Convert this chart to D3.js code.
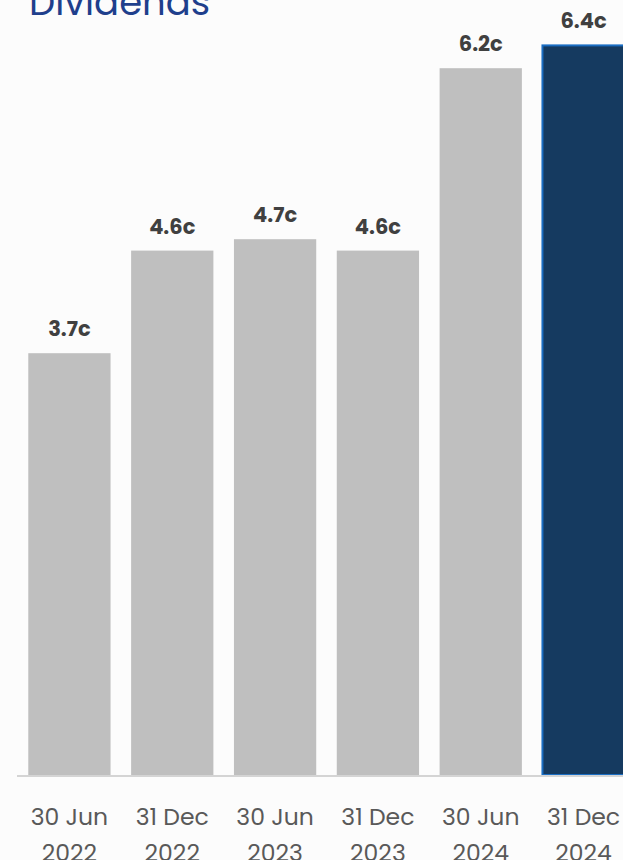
<!DOCTYPE html>
<html>
<head>
<meta charset="utf-8">
<script src="https://cdn.jsdelivr.net/npm/d3@7"></script>
<style>
  html, body { margin: 0; padding: 0; background: #fcfcfc; overflow: hidden; }
  svg { display: block; }
</style>
</head>
<body>
<svg id="chart"></svg>
<script>
// data
const periods = ['30 Jun 2022', '31 Dec 2022', '30 Jun 2023', '31 Dec 2023', '30 Jun 2024', '31 Dec 2024'];
const dividends = [3.7, 4.6, 4.7, 4.6, 6.2, 6.4];
const highlight = ['31 Dec 2024'];

const width = 623, height = 860;
const svg = d3.select('#chart').attr('width', width).attr('height', height);

const baseY = 775;
const x = d3.scaleBand()
    .domain(periods)
    .range([18, 635])
    .paddingInner(0.2)
    .paddingOuter(0.1);

const y = d3.scaleLinear()
    .domain([0, 6.4])
    .range([baseY, baseY - 6.4 * 114]);

// title (cut by the top edge in the reference)
svg.append('text')
    .attr('x', 29)
    .attr('y', 15)
    .attr('font-family', 'Poppins, Inter, sans-serif')
    .attr('font-size', 37)
    .attr('fill', '#1f3f8c')
    .text('Dividends');

const data = periods.map((p, i) => ({ period: p, value: dividends[i] }));

svg.selectAll('.bar')
    .data(data)
    .join('rect')
    .attr('class', 'bar')
    .attr('x', d => x(d.period))
    .attr('y', d => y(d.value))
    .attr('width', x.bandwidth())
    .attr('height', d => baseY - y(d.value))
    .attr('fill', d => highlight.includes(d.period) ? '#153a60' : '#bfbfbf')
    .attr('stroke', d => highlight.includes(d.period) ? '#1a6dc2' : 'none')
    .attr('stroke-width', 2);

// value labels
svg.selectAll('.val')
    .data(data)
    .join('text')
    .attr('class', 'val')
    .attr('x', d => x(d.period) + x.bandwidth() / 2)
    .attr('y', d => y(d.value) - 17)
    .attr('text-anchor', 'middle')
    .attr('font-family', 'Poppins, Inter, sans-serif')
    .attr('font-weight', 700)
    .attr('font-size', 21)
    .attr('fill', '#404040')
    .text(d => d.value.toFixed(1) + 'c');

// baseline
svg.append('line')
    .attr('x1', 17).attr('x2', width)
    .attr('y1', baseY + 1).attr('y2', baseY + 1)
    .attr('stroke', '#d4d4d4')
    .attr('stroke-width', 2);

// category labels, two lines each
const cats = svg.selectAll('.cat')
    .data(periods)
    .join('text')
    .attr('class', 'cat')
    .attr('text-anchor', 'middle')
    .attr('font-family', 'Poppins, Inter, sans-serif')
    .attr('font-size', 23.5)
    .attr('fill', '#595959');

cats.append('tspan')
    .attr('x', d => x(d) + x.bandwidth() / 2)
    .attr('y', 825)
    .text(d => d.split(' ').slice(0, 2).join(' '));

cats.append('tspan')
    .attr('x', d => x(d) + x.bandwidth() / 2)
    .attr('y', 861)
    .text(d => d.split(' ')[2]);
</script>
</body>
</html>
